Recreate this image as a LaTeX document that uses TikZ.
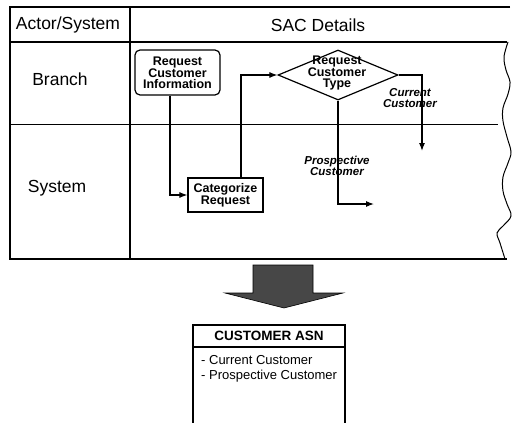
\documentclass[tikz,border=0pt]{standalone}
\usepackage{fontspec}
\setmainfont{Liberation Sans}
\usetikzlibrary{arrows.meta,shapes.geometric}
\tikzset{
  grid/.style={line width=1.3pt},
  conn/.style={line width=1.1pt,-{Latex[length=8pt,width=6pt]}},
  procbox/.style={draw,line width=1.2pt,align=center,inner sep=0pt,
    font=\fontsize{12.5}{11}\selectfont\bfseries},
  lanetext/.style={font=\fontsize{17.5}{19}\selectfont},
  flowlabel/.style={align=center,inner sep=0pt,
    font=\fontsize{11.5}{11}\selectfont\bfseries\itshape},
}
\begin{document}
\begin{tikzpicture}[x=1pt,y=-1pt]
\useasboundingbox (0,0) rectangle (512,423);

% swimlane table
\draw[grid] (510,7) -- (10,7) -- (10,259) -- (507,259);
\draw[grid] (10,42) -- (507,42);
\draw[grid] (130,7) -- (130,259);
\draw[line width=1pt] (10,124) -- (498,124);
% torn right edge
\draw[line width=1pt] plot[smooth,tension=0.6] coordinates {
  (508,42) (504,57) (506,70) (510,82) (508,94) (503,108) (503,121)
  (507,137) (511,152) (508,163) (503,177) (503,191) (507,204)
  (511,216) (503,226) (497,233) (500,243) (505,259)};

% lane headings
\node[lanetext] (hdactor) at (68,25) {Actor/System};
\node[lanetext] (hdsac) at (318,25) {SAC Details};
\node[lanetext] (lnbranch) at (60,79) {Branch};
\node[lanetext] (lnsystem) at (57,188) {System};

% process steps
\node[procbox,rounded corners=5pt,minimum width=85pt,minimum height=45pt]
  (req) at (177.5,72.5) {Request\\Customer\\Information};
\node[procbox,minimum width=75pt,minimum height=34pt]
  (cat) at (225.5,195) {Categorize\\Request};
\node[draw,diamond,line width=1.2pt,inner sep=0pt,
  minimum width=120pt,minimum height=50pt] (dia) at (338,75) {};
\node[align=center,inner sep=0pt,font=\fontsize{12.5}{11.5}\selectfont\bfseries]
  (diatext) at (337,73) {Request\\Customer\\Type};

% flow ends
\coordinate (curend) at (422,151);
\coordinate (prosend) at (374,204);

% connectors
\draw[conn] ([xshift=-7.5pt]req.south) |- (cat.west);
\draw[conn] ([xshift=15.5pt]cat.north) |- (dia.west);
\draw[conn] (dia.east) -| (curend);
\draw[conn] (dia.south) |- (prosend);

\node[flowlabel] (lblcur) at (410,98) {Current\\Customer};
\node[flowlabel] (lblpros) at (337,166) {Prospective\\Customer};

% shaded transition arrow
\filldraw[fill=black!72,draw=black,line width=0.6pt]
  (253,265) -- (313,265) -- (313,293) -- (343,293) -- (284,308)
  -- (225,293) -- (253,293) -- cycle;

% customer ASN box
\draw[grid] (193,423) -- (193,325) -- (345,325) -- (345,423);
\draw[grid] (193,347) -- (345,347);
\node[font=\fontsize{13.5}{15}\selectfont\bfseries] (asntitle) at (269,336)
  {CUSTOMER ASN};
\node[anchor=west,align=left,inner sep=0pt,
  font=\fontsize{13}{15}\selectfont] (asnlist) at (201,369)
  {- Current Customer\\- Prospective Customer};
\end{tikzpicture}
\end{document}
